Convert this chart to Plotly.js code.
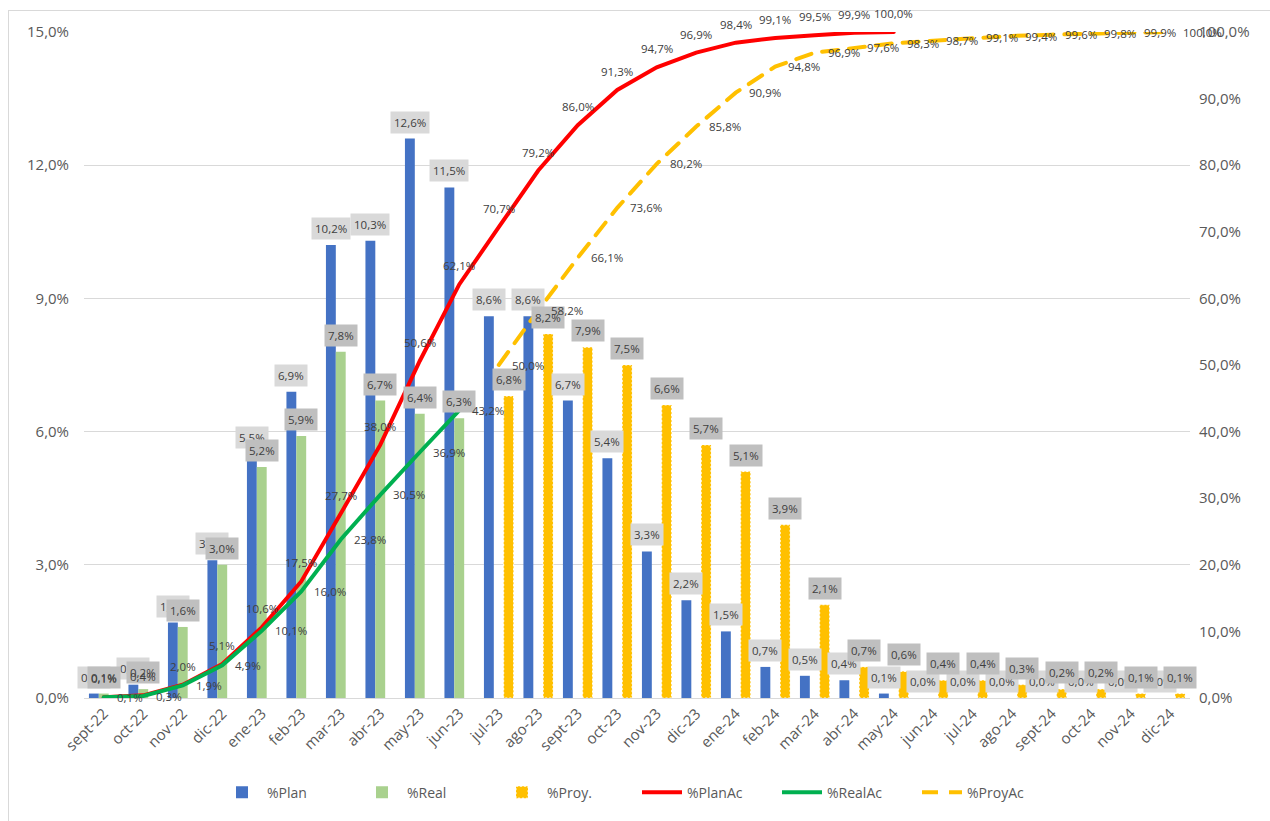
<!DOCTYPE html>
<html>
<head>
<meta charset="utf-8">
<script src="https://cdn.plot.ly/plotly-3.0.1.min.js"></script>
<style>
  html, body { margin: 0; padding: 0; background: #fff; }
  #wrap { position: relative; width: 1270px; height: 821px; overflow: hidden; }
  #frame { position: absolute; left: 8px; top: 10px; width: 1300px; height: 900px;
           border: 1px solid #d9d9d9; box-sizing: border-box; pointer-events: none; }
  #chart { position: absolute; left: 0; top: 0; width: 1270px; height: 821px; }
</style>
</head>
<body>
<div id="wrap">
  <div id="frame"></div>
  <div id="chart"></div>
</div>
<script>
// Monthly categories
const months = ['sept-22','oct-22','nov-22','dic-22','ene-23','feb-23','mar-23','abr-23','may-23','jun-23',
                'jul-23','ago-23','sept-23','oct-23','nov-23','dic-23','ene-24','feb-24','mar-24','abr-24',
                'may-24','jun-24','jul-24','ago-24','sept-24','oct-24','nov-24','dic-24'];

// Monthly percentages (left axis)
const plan = [0.1, 0.3, 1.7, 3.1, 5.5, 6.9, 10.2, 10.3, 12.6, 11.5,
              8.6, 8.6, 6.7, 5.4, 3.3, 2.2, 1.5, 0.7, 0.5, 0.4,
              0.1, 0.0, 0.0, 0.0, 0.0, 0.0, 0.0, 0.0];
const real = [0.1, 0.2, 1.6, 3.0, 5.2, 5.9, 7.8, 6.7, 6.4, 6.3,
              null, null, null, null, null, null, null, null, null, null,
              null, null, null, null, null, null, null, null];
const proy = [null, null, null, null, null, null, null, null, null, null,
              6.8, 8.2, 7.9, 7.5, 6.6, 5.7, 5.1, 3.9, 2.1, 0.7,
              0.6, 0.4, 0.4, 0.3, 0.2, 0.2, 0.1, 0.1];

// Cumulative percentages (right axis)
const planAc = [0.1, 0.4, 2.0, 5.1, 10.6, 17.5, 27.7, 38.0, 50.6, 62.1,
                70.7, 79.2, 86.0, 91.3, 94.7, 96.9, 98.4, 99.1, 99.5, 99.9,
                100.0, null, null, null, null, null, null, null];
const realAc = [0.1, 0.3, 1.9, 4.9, 10.1, 16.0, 23.8, 30.5, 36.9, 43.2,
                null, null, null, null, null, null, null, null, null, null,
                null, null, null, null, null, null, null, null];
const proyAc = [null, null, null, null, null, null, null, null, null, null,
                50.0, 58.2, 66.1, 73.6, 80.2, 85.8, 90.9, 94.8, 96.9, 97.6,
                98.3, 98.7, 99.1, 99.4, 99.6, 99.8, 99.9, 100.0];

// Axis ticks
const leftTicks = [0, 3, 6, 9, 12, 15];
const rightTicks = [0, 10, 20, 30, 40, 50, 60, 70, 80, 90, 100];

const BLUE = '#4472C4', LGREEN = '#A9D18E', GOLD = '#FFC000', RED = '#FF0000', GREEN = '#00B050';
const TXT = '#404040', AXTXT = '#595959', GRID = '#d9d9d9';
const FONT = 'Open Sans, Noto Sans, sans-serif';
const LBL = 11.5;

const fmt = v => v.toFixed(1).replace('.', ',') + '%';

const traces = [
  { type: 'bar', name: '%Plan', x: months, y: plan, marker: { color: BLUE }, hoverinfo: 'skip' },
  { type: 'bar', name: '%Real', x: months, y: real, marker: { color: LGREEN }, hoverinfo: 'skip' },
  { type: 'bar', name: '%Proy.', x: months, y: proy,
    marker: { color: GOLD, line: { color: '#ffffff', width: 1 } }, hoverinfo: 'skip' },
  { type: 'scatter', mode: 'lines', name: '%PlanAc', x: months, y: planAc, yaxis: 'y2',
    line: { color: RED, width: 4 }, hoverinfo: 'skip' },
  { type: 'scatter', mode: 'lines', name: '%RealAc', x: months, y: realAc, yaxis: 'y2',
    line: { color: GREEN, width: 4 }, hoverinfo: 'skip' },
  { type: 'scatter', mode: 'lines', name: '%ProyAc', x: months, y: proyAc, yaxis: 'y2',
    line: { color: GOLD, width: 4, dash: '16px,11px' }, hoverinfo: 'skip' }
];

// Data labels
const annotations = [];
function barLabels(vals, xshift, bg) {
  vals.forEach((v, i) => {
    if (v === null) return;
    annotations.push({
      x: months[i], y: v, xref: 'x', yref: 'y', text: fmt(v), showarrow: false,
      xshift: xshift, yshift: 5, yanchor: 'bottom', bgcolor: bg, borderpad: 3,
      font: { family: FONT, size: LBL, color: TXT }
    });
  });
}
function lineLabels(vals, pos) {
  vals.forEach((v, i) => {
    if (v === null) return;
    const a = {
      x: months[i], y: v, xref: 'x', yref: 'y2', text: fmt(v), showarrow: false,
      font: { family: FONT, size: LBL, color: TXT }
    };
    if (pos === 'top') { a.yanchor = 'bottom'; a.yshift = 9; }
    else { a.xanchor = 'left'; a.xshift = 11; a.yanchor = 'middle'; }
    annotations.push(a);
  });
}
barLabels(plan, -10, '#d9d9d9');
barLabels(real, 0, '#bfbfbf');
barLabels(proy, 10, '#bfbfbf');
lineLabels(planAc, 'top');
lineLabels(realAc, 'right');
lineLabels(proyAc, 'right');

const layout = {
  width: 1270, height: 821,
  margin: { l: 84, r: 80, t: 32, b: 119 },
  paper_bgcolor: 'rgba(0,0,0,0)', plot_bgcolor: 'rgba(0,0,0,0)',
  font: { family: FONT, color: AXTXT },
  barmode: 'group', bargap: 0.25, bargroupgap: 0,
  showlegend: true,
  legend: {
    orientation: 'h', x: 0.5, xanchor: 'center', y: -0.142, yanchor: 'middle',
    font: { family: FONT, size: 14, color: AXTXT }, itemwidth: 40, traceorder: 'normal',
    entrywidth: 85, entrywidthmode: 'pixels'
  },
  xaxis: {
    type: 'category', tickangle: -45, tickfont: { family: FONT, size: 15, color: AXTXT },
    showgrid: false, showline: true, linecolor: GRID, linewidth: 1, ticks: '',
    range: [-0.5, 27.5]
  },
  yaxis: {
    range: [0, 15], tickmode: 'array', tickvals: leftTicks, ticktext: leftTicks.map(fmt),
    showgrid: true, gridcolor: GRID, gridwidth: 1, zeroline: false, showline: false,
    tickfont: { family: FONT, size: 15, color: AXTXT }, ticklabelstandoff: 14
  },
  yaxis2: {
    range: [0, 100], overlaying: 'y', side: 'right',
    tickmode: 'array', tickvals: rightTicks, ticktext: rightTicks.map(fmt),
    showgrid: false, zeroline: false, showline: false,
    tickfont: { family: FONT, size: 15, color: AXTXT }, ticklabelstandoff: 8
  },
  annotations: annotations
};

Plotly.newPlot('chart', traces, layout, { staticPlot: true, displayModeBar: false }).then(() => {
  // dotted white outline on the projected bars and their legend swatch
  const barTraces = document.querySelectorAll('#chart .barlayer .trace');
  if (barTraces[2]) barTraces[2].querySelectorAll('path').forEach(p => {
    p.style.strokeDasharray = '2,2';
  });
  const legItems = document.querySelectorAll('#chart .legend .traces');
  if (legItems[2]) legItems[2].querySelectorAll('path').forEach(p => {
    p.style.strokeDasharray = '2,2';
  });
  document.querySelectorAll('#chart .scatterlayer .js-line').forEach(p => {
    p.style.strokeLinecap = 'round';
  });
});
</script>
</body>
</html>
